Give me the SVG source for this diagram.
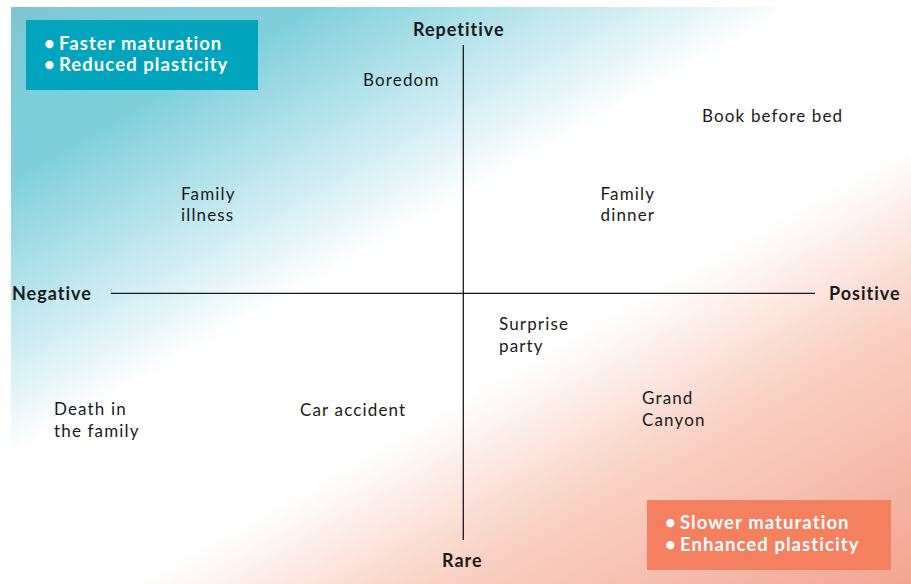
<svg xmlns="http://www.w3.org/2000/svg" width="911" height="584" viewBox="0 0 911 584">
<defs>
<linearGradient id="bg" gradientUnits="userSpaceOnUse" x1="0" y1="0" x2="473" y2="833">
<stop offset="0" stop-color="#82c3d0"/>
<stop offset="0.1" stop-color="#7dcfdb"/>
<stop offset="0.17" stop-color="#80d0dc"/>
<stop offset="0.42" stop-color="#ffffff"/>
<stop offset="0.6" stop-color="#ffffff"/>
<stop offset="0.75" stop-color="#f9d2c5"/>
<stop offset="1" stop-color="#f3a592"/>
</linearGradient>
<style>
.lbl{font-family:Lato,"Noto Sans",sans-serif;font-size:17px;letter-spacing:1.15px;fill:#1a1a1a}
.axis{font-family:Lato,"Noto Sans",sans-serif;font-size:18px;font-weight:bold;letter-spacing:1px;fill:#1a1a1a}
.box{font-family:Lato,"Noto Sans",sans-serif;font-size:18.5px;font-weight:bold;letter-spacing:1.07px;fill:#ffffff}
.ax{stroke:#1a1a1a;stroke-width:1.3;fill:none}
</style>
</defs>
<rect x="11" y="7" width="900" height="577" fill="url(#bg)"/>
<g id="connectors">
<line class="ax" x1="463.3" y1="45" x2="463.3" y2="540"/>
<line class="ax" x1="111" y1="293.3" x2="815" y2="293.3"/>
</g>
<g id="box-fast">
<rect x="26" y="20" width="232" height="70" fill="#00a5bd"/>
<text class="box" x="44" y="50">•</text>
<text class="box" x="59" y="50">Faster maturation</text>
<text class="box" x="44" y="71">•</text>
<text class="box" x="59" y="71">Reduced plasticity</text>
</g>
<g id="box-slow">
<rect x="647" y="500" width="244" height="70" fill="#f5805f"/>
<text class="box" x="665" y="528.5">•</text>
<text class="box" x="680" y="528.5">Slower maturation</text>
<text class="box" x="665" y="550.5">•</text>
<text class="box" x="680" y="550.5">Enhanced plasticity</text>
</g>
<g id="axis-repetitive"><text class="axis" x="413" y="36">Repetitive</text></g>
<g id="axis-rare"><text class="axis" x="442" y="567">Rare</text></g>
<g id="axis-negative"><text class="axis" x="12" y="299.5">Negative</text></g>
<g id="axis-positive"><text class="axis" x="829" y="299.5">Positive</text></g>
<g id="boredom"><text class="lbl" x="363" y="86">Boredom</text></g>
<g id="book"><text class="lbl" x="702" y="122">Book before bed</text></g>
<g id="family-illness"><text class="lbl" x="181" y="200">Family</text><text class="lbl" x="181" y="221">illness</text></g>
<g id="family-dinner"><text class="lbl" x="600.5" y="200">Family</text><text class="lbl" x="600.5" y="221">dinner</text></g>
<g id="surprise"><text class="lbl" x="499" y="330">Surprise</text><text class="lbl" x="499" y="352">party</text></g>
<g id="car"><text class="lbl" x="300" y="416">Car accident</text></g>
<g id="death"><text class="lbl" x="54" y="415">Death in</text><text class="lbl" x="54" y="437">the family</text></g>
<g id="canyon"><text class="lbl" x="642" y="404">Grand</text><text class="lbl" x="642" y="426">Canyon</text></g>
</svg>
